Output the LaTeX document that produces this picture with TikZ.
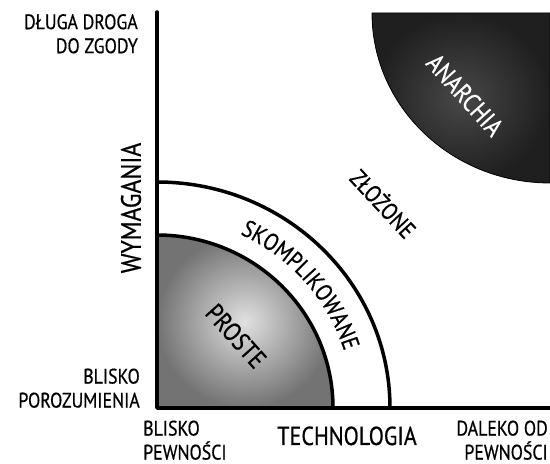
\documentclass[tikz,border=0pt]{standalone}
\usepackage{fontspec}
\setmainfont[FakeStretch=0.85, FakeBold=0.6]{PT Sans}
\usetikzlibrary{decorations.text}

\begin{document}
\begin{tikzpicture}[x=1pt,y=1pt,
  lbl/.style={inner sep=0pt, font=\fontsize{21}{24}\selectfont},
  big/.style={inner sep=0pt, font=\fontsize{26}{30}\selectfont},
  edge/.style={line width=3.5pt, line cap=round, line join=round}]
\useasboundingbox (0,0) rectangle (550,464);

\coordinate (origin) at (157,56);
\coordinate (ytop) at (157,452);
\coordinate (xend) at (550,56);

% simple region
\shade[inner color=black!12, outer color=black!55] (origin) -- (157,229)
  arc[start angle=90, end angle=0, x radius=176, y radius=173] -- cycle;
\draw[edge] (157,229) arc[start angle=90, end angle=0, x radius=176, y radius=173];
% complicated region
\draw[edge] (157,282) arc[start angle=90, end angle=0, x radius=233, y radius=226];
% anarchy region
\shade[inner color=black!72, outer color=black!88, draw=black, thick] (550,451) -- (372,451)
  arc[start angle=180, end angle=270, x radius=178, y radius=170] -- cycle;

% axes
\draw[edge] (ytop) -- (origin) -- (xend);

% region labels
\node[big, rotate=-48] (simple) at (236,128) {PROSTE};
\node[big, font=\fontsize{24}{28}\selectfont, rotate=-47] (complex) at (384,261) {ZŁOŻONE};
\node[big, rotate=-48, text=white] (anarchy) at (465,369) {ANARCHIA};
\path[decorate, decoration={text along path, text align=center,
  text format delimiters={|}{|},
  text={|\fontsize{24}{24}\selectfont|SKOMPLIKOWANE}}]
  (origin) ++(72:196 and 192)
  arc[start angle=72, end angle=10, x radius=196, y radius=192];

% axis labels
\node[big, font=\fontsize{28}{30}\selectfont, rotate=90] (req) at (131,256) {WYMAGANIA};
\node[big, anchor=base] (tech) at (347,19) {TECHNOLOGIA};
\node[lbl, align=right, anchor=north east] (far) at (138,450) {DŁUGA DROGA\\DO ZGODY};
\node[lbl, align=right, anchor=south east] (agree) at (140,56) {BLISKO\\POROZUMIENIA};
\node[lbl, align=left, anchor=south west] (certain) at (143,4) {BLISKO\\PEWNOŚCI};
\node[lbl, align=right, anchor=south east] (uncertain) at (548,4) {DALEKO OD\\PEWNOŚCI};
\end{tikzpicture}
\end{document}
